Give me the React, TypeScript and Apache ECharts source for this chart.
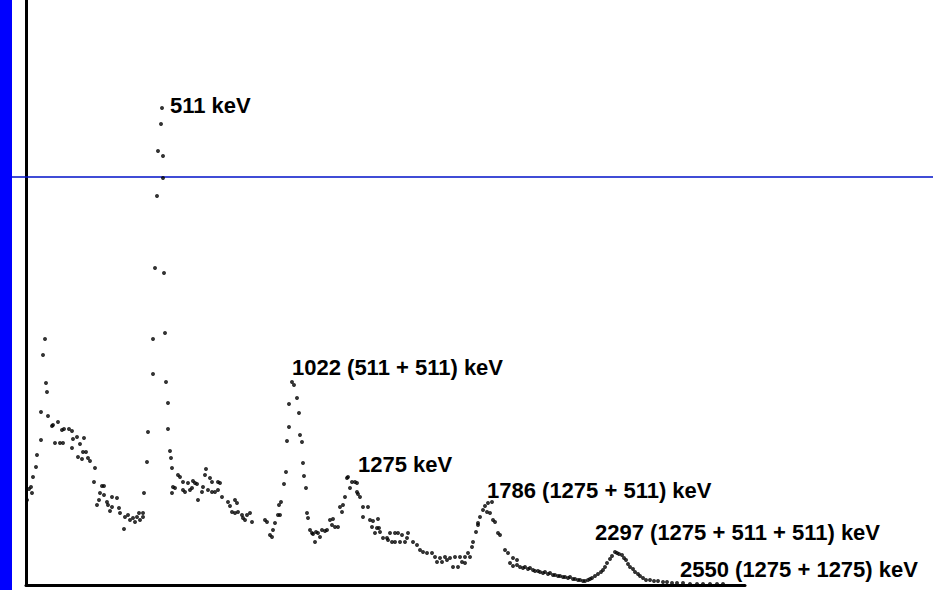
import React, { useEffect, useRef } from "react";
import * as echarts from "echarts";

// [channel, counts] readings of the scanned spectrum, grouped by region
const lowEnergyRegion: number[][] = [
  [19, 246], [17, 230], [20, 202], [21, 193], [15, 173], [22, 169], [26, 159], [27, 160], [32, 163],
  [36, 155], [38, 156], [43, 156], [46, 154], [15, 145], [29, 142], [34, 142], [37, 142], [47, 146],
  [51, 148], [58, 147], [54, 141], [46, 137], [11, 130], [57, 133], [60, 133], [52, 128], [56, 126],
  [62, 127], [64, 124], [69, 117], [10, 118], [7, 108], [68, 103], [76, 99], [78, 99], [5, 98],
  [3, 96], [6, 92], [1, 85], [74, 92], [78, 90], [86, 88], [91, 87], [93, 77], [73, 85], [81, 83],
  [82, 80], [86, 78], [71, 80], [84, 74], [94, 72], [99, 68], [102, 70], [104, 65], [107, 67],
  [111, 68], [109, 63], [114, 65], [113, 72], [98, 56], [117, 72], [117, 68],
];

const peak511: number[][] = [
  [118, 92], [121, 123], [122, 153], [127, 211], [127, 246], [129, 317], [131, 389], [132, 434],
  [135, 461], [136, 477], [137, 429], [137, 407], [138, 312], [139, 252], [140, 203], [142, 182],
  [142, 156], [144, 134], [145, 127], [146, 117], [146, 92],
];

const region511to1022: number[][] = [
  [152, 110], [154, 108], [157, 103], [162, 102], [167, 104], [169, 102], [171, 101], [180, 116],
  [179, 110], [184, 107], [186, 103], [192, 103], [194, 102], [147, 98], [149, 97], [157, 95],
  [159, 93], [164, 95], [166, 97], [177, 98], [176, 93], [182, 95], [186, 93], [189, 93], [192, 95],
  [196, 88], [172, 85], [202, 83], [204, 79], [209, 85], [211, 82], [206, 73], [209, 72], [212, 73],
  [216, 70], [217, 67], [221, 70], [224, 72], [226, 63], [219, 65], [239, 65], [241, 63], [247, 55],
  [244, 50], [246, 48], [249, 62], [252, 70], [253, 80], [255, 83], [254, 70],
];

const peak1022: number[][] = [
  [258, 101], [260, 113], [261, 144], [263, 158], [263, 181], [266, 203], [268, 200], [271, 187],
  [273, 172], [274, 150], [276, 143], [277, 122], [278, 109], [280, 97], [281, 72], [282, 67],
  [284, 55], [286, 52], [287, 51], [290, 53], [292, 52], [294, 48], [289, 43],
];

const region1275: number[][] = [
  [296, 55], [299, 54], [301, 55], [304, 65], [307, 66], [306, 60], [309, 58], [312, 58], [314, 78],
  [317, 80], [316, 73], [319, 88], [324, 97], [321, 107], [322, 108], [326, 103], [329, 103],
  [331, 102], [331, 93], [334, 88], [332, 91], [337, 78], [342, 78], [337, 68], [344, 65], [347, 64],
  [352, 66], [346, 58], [351, 57], [353, 57], [349, 52], [354, 53], [357, 47], [361, 47], [364, 52],
  [369, 52], [372, 52], [376, 50], [382, 52], [381, 47], [374, 43], [369, 43], [366, 43], [379, 43],
  [362, 45], [387, 43], [391, 40], [394, 35], [397, 33], [401, 32], [406, 32], [409, 28], [414, 27],
  [419, 28], [424, 27], [429, 28], [434, 28], [439, 28], [442, 32], [446, 38], [447, 43], [452, 60],
  [411, 23], [416, 23], [421, 25], [427, 18], [432, 18], [436, 23], [439, 22], [444, 28],
];

const peak1786: number[][] = [
  [450, 53], [452, 62], [454, 68], [457, 75], [459, 79], [462, 82], [466, 83], [461, 73], [464, 72],
  [467, 65], [469, 63], [472, 52], [474, 50], [479, 35], [482, 32], [487, 27], [491, 25],
];

const tailRegion: number[][] = [
  [484, 22], [487, 19], [491, 20], [494, 18], [497, 17], [499, 18], [502, 16], [504, 17], [507, 15],
  [509, 14], [512, 14], [514, 13], [517, 12], [519, 13], [522, 11], [524, 12], [527, 10], [529, 10],
  [532, 9], [534, 9], [537, 8], [539, 8], [542, 7], [544, 8], [547, 6], [549, 6], [552, 5], [554, 5],
  [557, 4], [559, 4], [562, 5], [564, 6], [566, 7], [569, 9], [572, 11], [575, 13], [577, 15],
  [579, 18], [581, 22], [584, 26], [586, 29], [589, 33], [591, 32], [593, 31], [596, 30], [598, 27],
  [600, 25], [602, 21], [604, 18], [607, 16], [609, 13], [612, 11], [614, 9], [617, 7], [620, 5],
  [624, 5], [628, 4], [632, 4], [637, 3], [641, 3], [646, 2], [651, 2], [657, 2], [664, 1], [671, 1],
  [677, 1], [684, 1], [691, 1], [697, 1],
];

const peakLabels: string[] = [
  "511 keV",
  "1022 (511 + 511) keV",
  "1275 keV",
  "1786 (1275 + 511) keV",
  "2297 (1275 + 511 + 511) keV",
  "2550 (1275 + 1275) keV",
];

const channelMax = 719;
const countMax = 585;

export default function App() {
  const ref = useRef<HTMLDivElement>(null);

  useEffect(() => {
    if (!ref.current) return;
    const chart = echarts.init(ref.current, null, { renderer: "svg" });

    const labelPos = [
      [170, 105],
      [292, 367],
      [358, 464],
      [487, 490],
      [595, 532],
      [680, 569],
    ];

    const allPoints = [
      ...lowEnergyRegion,
      ...peak511,
      ...region511to1022,
      ...peak1022,
      ...region1275,
      ...peak1786,
      ...tailRegion,
    ];

    chart.setOption({
      animation: false,
      backgroundColor: "#ffffff",
      grid: { left: 26, right: 188, top: 0, bottom: 5, outerBoundsMode: "none" },
      xAxis: {
        type: "value",
        min: 0,
        max: channelMax,
        axisLine: { show: true, onZero: false, lineStyle: { color: "#000", width: 3 } },
        axisTick: { show: false },
        axisLabel: { show: false },
        splitLine: { show: false },
      },
      yAxis: {
        type: "value",
        min: 0,
        max: countMax,
        axisLine: { show: true, onZero: false, lineStyle: { color: "#000", width: 3 } },
        axisTick: { show: false },
        axisLabel: { show: false },
        splitLine: { show: false },
      },
      series: [
        {
          type: "scatter",
          data: allPoints,
          symbol: "circle",
          symbolSize: 4,
          itemStyle: { color: "#000" },
          clip: false,
        },
      ],
      graphic: [
        {
          type: "rect",
          shape: { x: 0, y: 0, width: 12, height: 590 },
          style: { fill: "#0000ff" },
          z: 10,
        },
        {
          type: "line",
          shape: { x1: 12, y1: 177, x2: 933, y2: 177 },
          style: { stroke: "#0010c8", lineWidth: 1.5 },
          z: 1,
        },
        ...peakLabels.map((t, i) => ({
          type: "text",
          x: labelPos[i][0],
          y: labelPos[i][1],
          z: 5,
          style: {
            text: t,
            fill: "#000",
            fontSize: 22,
            fontWeight: "bold",
            fontFamily: "Liberation Sans, Arial, sans-serif",
            align: "left",
            verticalAlign: "middle",
          },
        })),
      ],
    });

    return () => chart.dispose();
  }, []);

  return (
    <div
      ref={ref}
      style={{ position: "absolute", left: 0, top: 0, width: 933, height: 590, background: "#fff" }}
    />
  );
}
